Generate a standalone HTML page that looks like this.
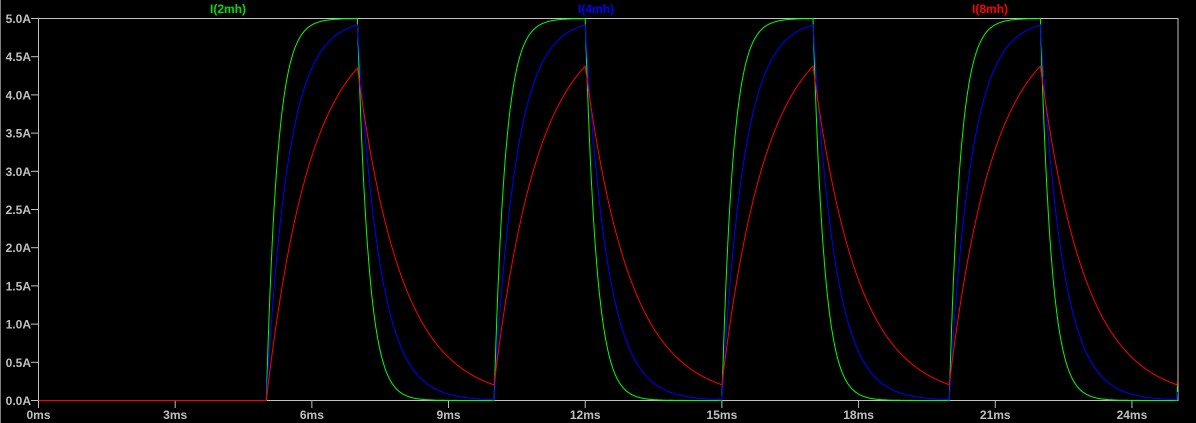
<!DOCTYPE html>
<html><head><style>
body{margin:0;background:#000;width:1196px;height:423px;overflow:hidden}
svg{display:block}
text{font-family:"Liberation Sans",sans-serif;font-weight:bold;font-size:12px}
</style></head><body>
<svg id="s" width="1196" height="423" xmlns="http://www.w3.org/2000/svg">
<rect width="1196" height="423" fill="#000"/>
<line x1="0.5" y1="0" x2="0.5" y2="423" stroke="#808080"/>
<rect x="38.5" y="18.5" width="1139.5" height="382" fill="none" stroke="#c0c0c0"/>
<g id="ax" fill="#c0c0c0" stroke="#c0c0c0"></g>
<text x="228" y="13" fill="#00e000" text-anchor="middle">I(2mh)</text>
<text x="596" y="13" fill="#0000ff" text-anchor="middle">I(4mh)</text>
<text x="990" y="13" fill="#ff0000" text-anchor="middle">I(8mh)</text>
<g id="tr" fill="none" stroke-width="1"></g>
</svg>
<script>
var X0=38.5,PX=45.56,Y0=400.5,PY=76.4;
var ax=document.getElementById('ax'),h='';
for(var i=0;i<=10;i++){var v=i*0.5,y=Y0-v*PY;
 h+='<line x1="31" y1="'+y+'" x2="38" y2="'+y+'"/>';
 h+='<text x="31" y="'+(y+4.5)+'" text-anchor="end" stroke="none">'+v.toFixed(1)+'A</text>';}
for(var i=0;i<=8;i++){var x=X0+i*3*PX;
 h+='<line x1="'+x+'" y1="401" x2="'+x+'" y2="408"/>';
 h+='<text x="'+x+'" y="419" text-anchor="middle" stroke="none">'+(i*3)+'ms</text>';}
ax.innerHTML=h;
var tr=document.getElementById('tr'),g='';
[[0.245,'#00ff00'],[0.49,'#0000ff'],[0.98,'#ff0000']].forEach(function(c){
 var tau=c[0],I=0,dt=0.01,pts=[];
 for(var t=0;t<=25.0001;t+=dt){
  var on=(t>=5 && ((t-5)%5)<2);
  var target=on?5:0;
  I=target+(I-target)*Math.exp(-dt/tau);
  pts.push((X0+t*PX).toFixed(1)+','+(Y0-I*PY).toFixed(1));
 }
 g+='<polyline stroke="'+c[1]+'" points="'+pts.join(' ')+'"/>';
});
tr.innerHTML=g;
</script>
</body></html>
